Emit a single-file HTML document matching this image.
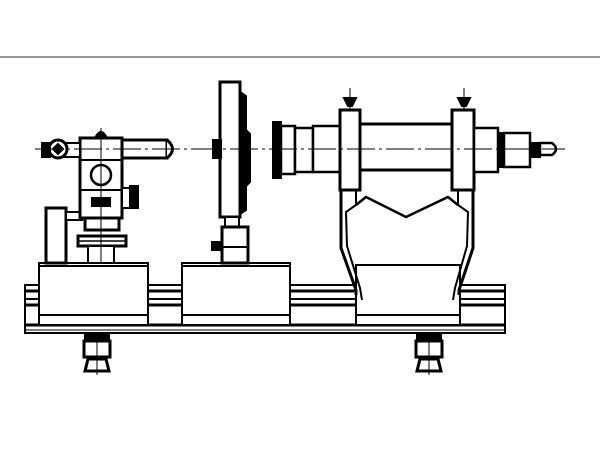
<!DOCTYPE html>
<html><head><style>html,body{margin:0;padding:0;background:#fff}svg{display:block}</style></head>
<body>
<svg width="600" height="450" viewBox="0 0 600 450" xmlns="http://www.w3.org/2000/svg" fill="none" stroke="#000" stroke-width="2">
<line x1="0" y1="57" x2="600" y2="57" stroke="#777" stroke-width="1.5"/>
<!-- rail -->
<rect x="25" y="285" width="480" height="48" fill="#fff"/>
<line x1="25" y1="291" x2="505" y2="291" stroke-width="3"/>
<line x1="25" y1="299" x2="505" y2="299"/>
<line x1="25" y1="305" x2="505" y2="305" stroke-width="3"/>
<line x1="25" y1="325" x2="505" y2="325" stroke-width="3"/>
<line x1="25" y1="330" x2="505" y2="330" stroke-width="1"/>
<!-- blocks -->
<rect x="39" y="263" width="109" height="62" fill="#fff"/>
<line x1="39" y1="266" x2="148" y2="266"/>
<line x1="39" y1="315" x2="148" y2="315"/>
<rect x="182" y="263" width="108" height="62" fill="#fff"/>
<line x1="182" y1="266" x2="290" y2="266"/>
<line x1="182" y1="315" x2="290" y2="315"/>
<rect x="356" y="265" width="104" height="60" fill="#fff"/>
<line x1="356" y1="315" x2="460" y2="315"/>
<!-- feet -->
<g id="foot">
<rect x="85" y="334" width="24" height="7" fill="#000"/>
<rect x="84" y="341" width="26" height="16" fill="#fff" stroke-width="3"/>
<path d="M88 359 L106 359 L109 371 L85 371 Z" fill="#fff" stroke-width="3"/>
<line x1="97" y1="334" x2="97" y2="375" stroke-width="1"/>
</g>
<use href="#foot" transform="translate(332,0)"/>
<!-- autocollimator -->
<rect x="46" y="208" width="20" height="55" fill="#fff" stroke-width="3"/>
<rect x="66" y="212" width="16" height="8" fill="#fff"/>
<rect x="80" y="138" width="42" height="80" fill="#fff" stroke-width="3"/>
<line x1="80" y1="160" x2="122" y2="160"/>
<line x1="80" y1="190" x2="122" y2="190"/>
<circle cx="101" cy="175" r="10" fill="#fff" stroke-width="2.5"/>
<rect x="92" y="198" width="18" height="8" fill="#000"/>
<path d="M95 138 Q101 126 107 138" fill="#000"/>
<rect x="122" y="140" width="45" height="18" fill="#fff" stroke-width="3"/>
<path d="M167 140 Q178 149 167 158" fill="#fff" stroke-width="3"/>
<rect x="122" y="188" width="10" height="20" fill="#fff" stroke-width="2"/>
<rect x="130" y="186" width="8" height="22" fill="#000"/>
<rect x="55" y="143" width="25" height="14" fill="#fff"/>
<circle cx="58" cy="149" r="9" fill="#fff" stroke-width="3"/>
<path d="M53 149 L58 144 L63 149 L58 154 Z" fill="#000"/>
<rect x="42" y="143" width="8" height="14" fill="#000"/>
<rect x="85" y="218" width="34" height="12" fill="#fff" stroke-width="3"/>
<rect x="78" y="236" width="48" height="10" fill="#fff" stroke-width="3"/>
<line x1="78" y1="241" x2="126" y2="241" stroke-width="1.5"/>
<rect x="88" y="246" width="26" height="17" fill="#fff"/>
<line x1="101" y1="225" x2="101" y2="263" stroke-width="1"/>
<!-- disc -->
<rect x="220" y="82" width="20" height="135" fill="#fff" stroke-width="3"/>
<path d="M240 92 L246 96 L246 130 L250 134 L250 182 L246 186 L246 210 L240 214 Z" fill="#000"/>
<rect x="213" y="140" width="8" height="18" fill="#000"/>
<rect x="225" y="217" width="14" height="10" fill="#fff"/>
<rect x="222" y="227" width="26" height="36" fill="#fff" stroke-width="3"/>
<line x1="222" y1="247" x2="248" y2="247"/>
<rect x="212" y="242" width="10" height="8" fill="#000"/>
<!-- telescope -->
<rect x="273" y="122" width="8" height="56" fill="#000"/>
<rect x="281" y="126" width="14" height="48" fill="#fff" stroke-width="2.5"/>
<rect x="295" y="128" width="18" height="44" fill="#fff" stroke-width="2.5"/>
<rect x="313" y="126" width="27" height="46" fill="#fff" stroke-width="2.5"/>
<rect x="340" y="110" width="20" height="80" fill="#fff" stroke-width="3"/>
<rect x="360" y="124" width="92" height="46" fill="#fff" stroke-width="3"/>
<rect x="452" y="110" width="22" height="80" fill="#fff" stroke-width="3"/>
<rect x="474" y="128" width="24" height="44" fill="#fff" stroke-width="2.5"/>
<rect x="498" y="133" width="12" height="34" fill="#000"/>
<rect x="504" y="133" width="26" height="34" fill="#fff" stroke-width="2.5"/>
<rect x="530" y="143" width="10" height="14" fill="#000"/>
<path d="M540 143 L552 143 Q560 149 552 155 L540 155 Z" fill="#fff" stroke-width="2.5"/>
<path d="M344 98 L356 98 L352 106 L348 106 Z" fill="#000"/>
<path d="M458 98 L470 98 L466 106 L462 106 Z" fill="#000"/>
<line x1="350" y1="88" x2="350" y2="110" stroke-width="1"/>
<line x1="464" y1="88" x2="464" y2="110" stroke-width="1"/>
<!-- legs -->
<path d="M341 190 L341 248 L356 290 L356 295" stroke-width="3"/>
<path d="M356 190 L356 205 L346 212 L347 246 L360 288 L362 300"/>
<path d="M473 190 L473 248 L459 290 L459 295" stroke-width="3"/>
<path d="M458 190 L458 205 L468 212 L467 246 L455 288 L453 300"/>
<path d="M356 205 L366 197 L406 217 L448 197 L458 205" stroke-width="2.5"/>
<line x1="360" y1="265" x2="455" y2="265"/>
<!-- axis -->
<line x1="35" y1="149" x2="565" y2="149" stroke-width="1" stroke-dasharray="28 4 3 4"/>
<line x1="101" y1="128" x2="101" y2="263" stroke-width="1"/>
</svg>
</body></html>
